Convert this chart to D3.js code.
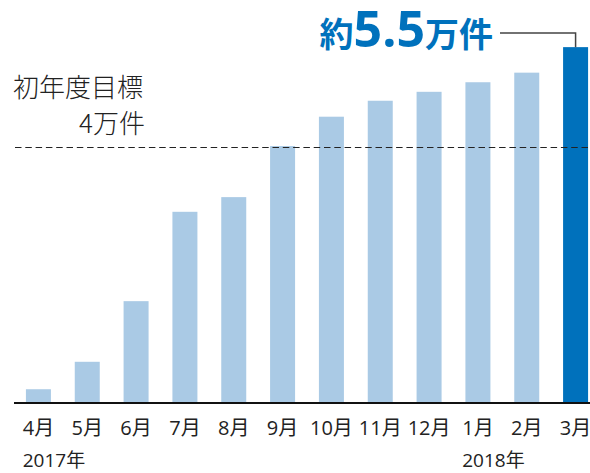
<!DOCTYPE html>
<html lang="ja">
<head>
<meta charset="UTF-8" />
<title>件数推移</title>
<script src="https://cdn.jsdelivr.net/npm/d3@7"></script>
<style>
  body { margin: 0; background: #fff; }
</style>
</head>
<body>
<script>
// data (万件)
var months = ["4月", "5月", "6月", "7月", "8月", "9月", "10月", "11月", "12月", "1月", "2月", "3月"];
var counts = [0.20, 0.63, 1.58, 2.98, 3.21, 4.01, 4.47, 4.72, 4.86, 5.01, 5.16, 5.56];
var yearLabels = ["2017年", "2018年"];
var yearAt = ["4月", "1月"];
var target = 4;

var width = 590, height = 473;
var baseY = 402;
var labelFont = "'Open Sans', 'Noto Sans CJK JP', sans-serif";

var svg = d3.select("body").append("svg")
  .attr("width", width)
  .attr("height", height)
  .style("font-family", "'Noto Sans CJK JP', sans-serif");

var x = d3.scaleBand()
  .domain(months)
  .range([14, 600])
  .paddingInner(0.488)
  .paddingOuter(0.244);

var y = d3.scaleLinear()
  .domain([0, 4])
  .range([baseY, 146.7]);

// bars
svg.selectAll("rect.bar")
  .data(counts)
  .enter()
  .append("rect")
  .attr("class", "bar")
  .attr("x", function(d, i) { return x(months[i]); })
  .attr("y", function(d) { return y(d); })
  .attr("width", x.bandwidth())
  .attr("height", function(d) { return baseY - y(d); })
  .attr("fill", function(d, i) { return i == months.length - 1 ? "#0071bc" : "#aacae5"; });

// target line
svg.append("line")
  .attr("x1", 15).attr("x2", 590)
  .attr("y1", Math.round(y(target)) + 0.5).attr("y2", Math.round(y(target)) + 0.5)
  .attr("stroke", "#222")
  .attr("stroke-width", 1.2)
  .attr("stroke-dasharray", "6.5,3.8");

svg.append("text")
  .attr("x", 13).attr("y", 97)
  .style("font-size", "26px")
  .style("font-weight", 300)
  .attr("fill", "#222")
  .text("初年度目標");

svg.append("text")
  .attr("x", 145).attr("y", 133)
  .attr("text-anchor", "end")
  .style("font-size", "26px")
  .style("font-weight", 300)
  .attr("fill", "#222")
  .text("4万件");

// axis line
svg.append("line")
  .attr("x1", 14).attr("x2", 590)
  .attr("y1", baseY + 1).attr("y2", baseY + 1)
  .attr("stroke", "#111")
  .attr("stroke-width", 2);

// month labels
var xAxis = d3.axisBottom(x).tickSize(0).tickPadding(0);
var ax = svg.append("g")
  .attr("transform", "translate(0," + 435 + ")")
  .call(xAxis);
ax.select(".domain").remove();
ax.selectAll("text")
  .attr("dy", 0)
  .style("font-size", "20px")
  .style("font-family", labelFont)
  .attr("fill", "#222");

// year labels, left aligned with the month label above
svg.selectAll("text.year")
  .data(yearLabels)
  .enter()
  .append("text")
  .attr("class", "year")
  .attr("x", function(d, i) {
    var t = ax.selectAll(".tick").filter(function(m) { return m == yearAt[i]; }).select("text").node();
    return x(yearAt[i]) + x.bandwidth() / 2 - t.getComputedTextLength() / 2;
  })
  .attr("y", 467)
  .style("font-size", "19px")
  .style("font-family", labelFont)
  .attr("fill", "#222")
  .text(function(d) { return d; });

// callout for last bar
var last = counts[counts.length - 1];
var lx = x(months[months.length - 1]) + x.bandwidth() / 2;
svg.append("path")
  .attr("d", "M500," + 33 + "H" + lx + "V" + y(last))
  .attr("fill", "none")
  .attr("stroke", "#444")
  .attr("stroke-width", 1.5);

var big = svg.append("text")
  .attr("x", 493).attr("y", 47)
  .attr("text-anchor", "end")
  .attr("fill", "#0071bc")
  .style("font-weight", "bold");
big.append("tspan").style("font-size", "34px").text("約");
big.append("tspan").style("font-size", "50px").style("font-family", "'Open Sans', sans-serif").text("5.5");
big.append("tspan").style("font-size", "34px").text("万件");
</script>
</body>
</html>
